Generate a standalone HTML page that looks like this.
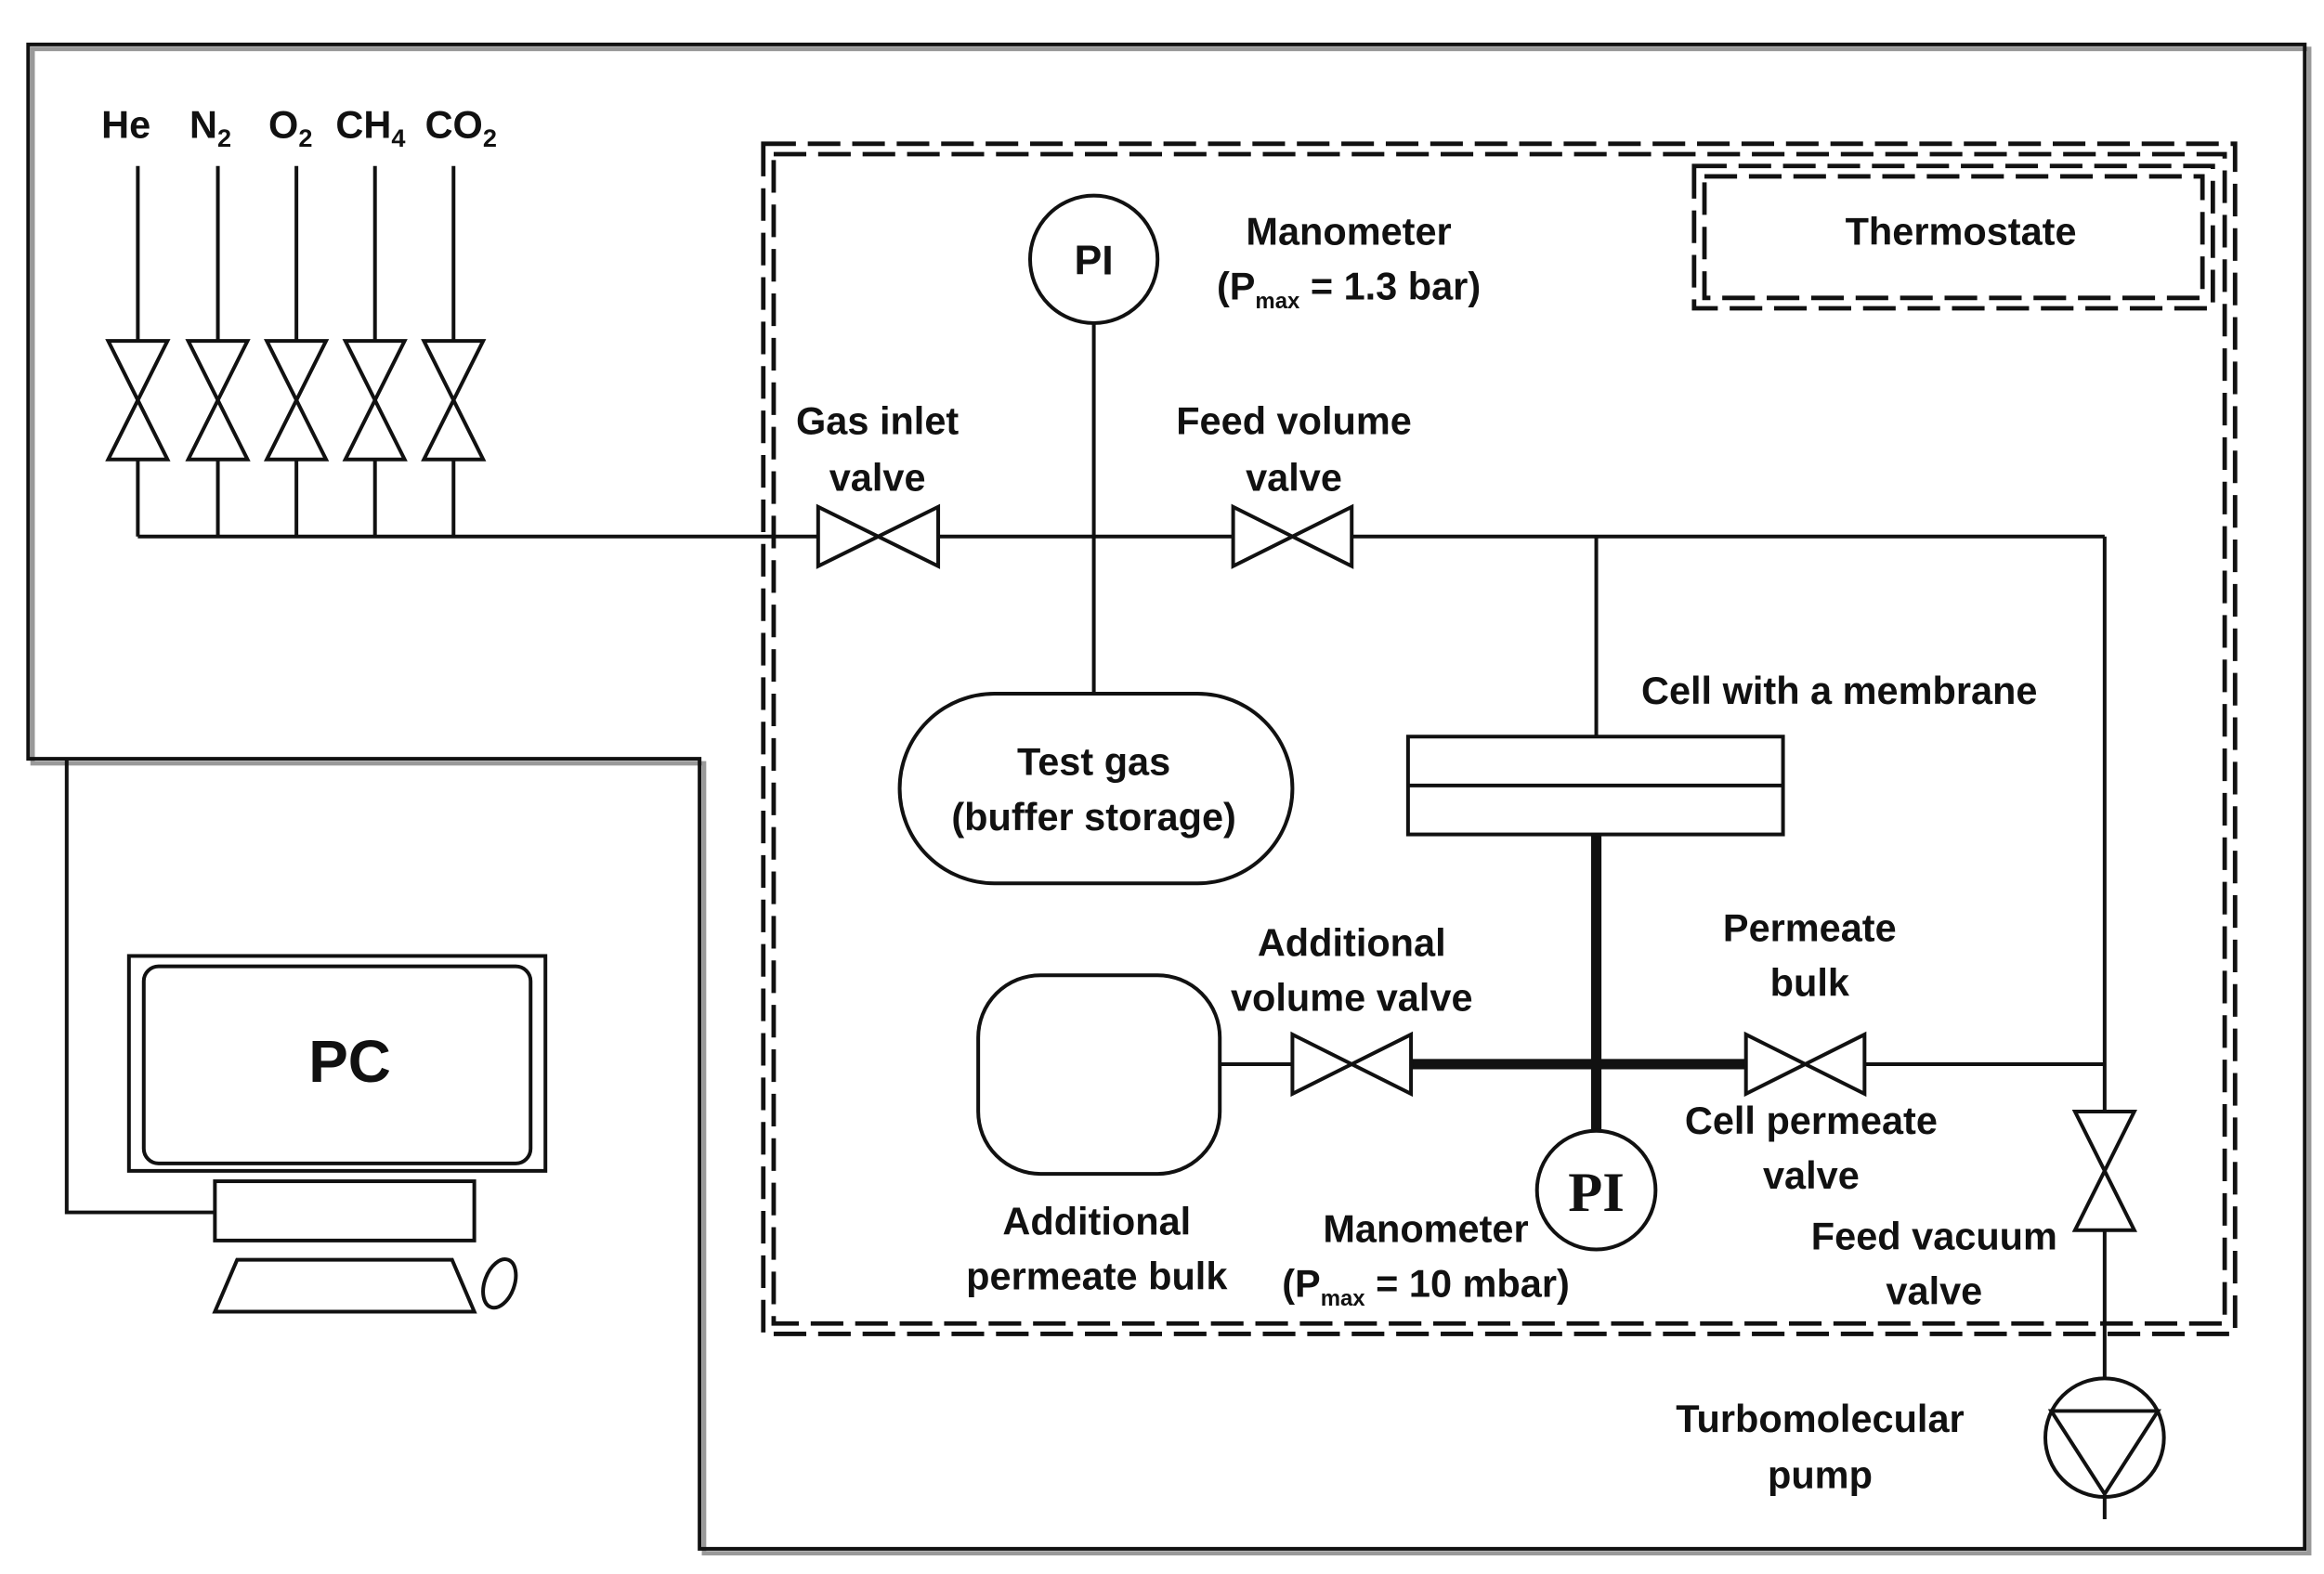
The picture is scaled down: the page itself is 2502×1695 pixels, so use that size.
<!DOCTYPE html>
<html><head><meta charset="utf-8"><style>
html,body{margin:0;padding:0;background:#fff;}
svg{display:block;}
text{font-family:"Liberation Sans",sans-serif;font-weight:bold;fill:#111;}
text.serif{font-family:"Liberation Serif",serif;font-weight:bold;}
</style></head><body>
<svg width="2502" height="1695" viewBox="0 0 1568 1062" preserveAspectRatio="none" xmlns="http://www.w3.org/2000/svg">
<rect width="1568" height="1062" fill="#fff"/>
<g fill="none" stroke="#111" stroke-width="2.5">
<path d="M22,33 H1558 V1048 H475 V515 H22 Z" stroke="#999" stroke-width="3"/>
<path d="M19,30 H1555 V1045 H472 V512 H19 Z"/>
<rect x="515" y="97" width="993" height="803" stroke-dasharray="22,8" stroke-width="3"/>
<rect x="522" y="104" width="979" height="789" stroke-dasharray="22,8" stroke-width="3"/>
<rect x="1143" y="112" width="350" height="96" stroke-dasharray="22,8" stroke-width="3"/>
<rect x="1150" y="119" width="336" height="82" stroke-dasharray="22,8" stroke-width="3"/>
<path d="M93,112V362 M147,112V362 M200,112V362 M253,112V362 M306,112V362"/>
<path d="M93,362H1420"/>
<g fill="#fff">
<path d="M73,230H113L73,310H113Z"/>
<path d="M127,230H167L127,310H167Z"/>
<path d="M180,230H220L180,310H220Z"/>
<path d="M233,230H273L233,310H273Z"/>
<path d="M286,230H326L286,310H326Z"/>
<path d="M552,342V382L633,342V382Z"/>
<path d="M832,342V382L912,342V382Z"/>
</g>
<circle cx="738" cy="175" r="43" fill="#fff"/>
<path d="M738,218V468"/>
<rect x="607" y="468" width="265" height="128" rx="64" fill="#fff"/>
<path d="M1077,362V497"/>
<rect x="950" y="497" width="253" height="66"/>
<path d="M950,530H1203"/>
<path d="M1077,563V765 M953,718H1178" stroke-width="7"/>
<path d="M823,718H872 M1258,718H1420 M1420,362V1025"/>
<g fill="#fff">
<path d="M872,698V738L952,698V738Z"/>
<path d="M1178,698V738L1258,698V738Z"/>
<path d="M1400,750H1440L1400,830H1440Z"/>
</g>
<rect x="660" y="658" width="163" height="134" rx="42" fill="#fff"/>
<circle cx="1077" cy="803" r="40" fill="#fff"/>
<circle cx="1420" cy="970" r="40" fill="#fff"/>
<path d="M1384,952H1456L1420,1008Z"/>
<rect x="87" y="645" width="281" height="145"/>
<rect x="97" y="652" width="261" height="133" rx="10"/>
<rect x="145" y="797" width="175" height="40"/>
<path d="M145,885H320L305,850H160Z"/>
<ellipse cx="337" cy="866" rx="10" ry="17" transform="rotate(20 337 866)"/>
<path d="M45,512V818H145"/>
</g>
<g font-size="26">
<text x="85" y="93" text-anchor="middle">He</text>
<text x="142" y="93" text-anchor="middle">N<tspan font-size="17" dy="6">2</tspan></text>
<text x="196" y="93" text-anchor="middle">O<tspan font-size="17" dy="6">2</tspan></text>
<text x="250" y="93" text-anchor="middle">CH<tspan font-size="17" dy="6">4</tspan></text>
<text x="311" y="93" text-anchor="middle">CO<tspan font-size="17" dy="6">2</tspan></text>
<text x="738" y="185" text-anchor="middle" font-size="28">PI</text>
<text x="910" y="165" text-anchor="middle">Manometer</text>
<text x="910" y="202" text-anchor="middle">(P<tspan font-size="15" dy="6">max</tspan><tspan dy="-6"> = 1.3 bar)</tspan></text>
<text x="1323" y="165" text-anchor="middle">Thermostate</text>
<text x="592" y="293" text-anchor="middle">Gas inlet</text>
<text x="592" y="331" text-anchor="middle">valve</text>
<text x="873" y="293" text-anchor="middle">Feed volume</text>
<text x="873" y="331" text-anchor="middle">valve</text>
<text x="1241" y="475" text-anchor="middle">Cell with a membrane</text>
<text x="738" y="523" text-anchor="middle">Test gas</text>
<text x="738" y="560" text-anchor="middle">(buffer storage)</text>
<text x="912" y="645" text-anchor="middle">Additional</text>
<text x="912" y="682" text-anchor="middle">volume valve</text>
<text x="1221" y="635" text-anchor="middle">Permeate</text>
<text x="1221" y="672" text-anchor="middle">bulk</text>
<text x="1222" y="765" text-anchor="middle">Cell permeate</text>
<text x="1222" y="802" text-anchor="middle">valve</text>
<text x="1305" y="843" text-anchor="middle">Feed vacuum</text>
<text x="1305" y="880" text-anchor="middle">valve</text>
<text x="740" y="833" text-anchor="middle">Additional</text>
<text x="740" y="870" text-anchor="middle">permeate bulk</text>
<text x="962" y="838" text-anchor="middle">Manometer</text>
<text x="962" y="875" text-anchor="middle">(P<tspan font-size="15" dy="6">max</tspan><tspan dy="-6"> = 10 mbar)</tspan></text>
<text class="serif" x="1077" y="817" text-anchor="middle" font-size="38">PI</text>
<text x="1228" y="966" text-anchor="middle">Turbomolecular</text>
<text x="1228" y="1004" text-anchor="middle">pump</text>
<text x="236" y="730" text-anchor="middle" font-size="40">PC</text>
</g>
</svg>
</body></html>
